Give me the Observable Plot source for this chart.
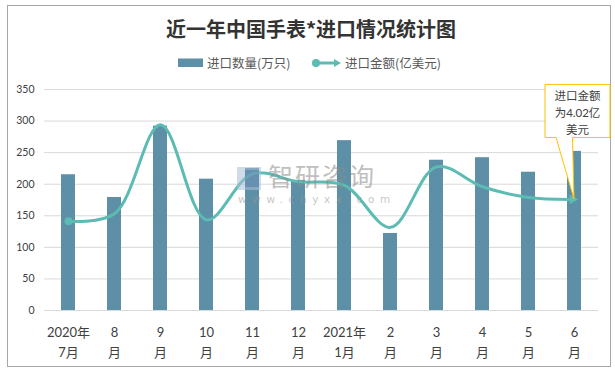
<!DOCTYPE html>
<html><head><meta charset="utf-8">
<script src="https://cdn.jsdelivr.net/npm/d3@7"></script>
<script src="https://cdn.jsdelivr.net/npm/@observablehq/plot@0.6"></script>
<style>
body{margin:0;background:#fff;}
#wrap{position:relative;width:615px;height:371px;overflow:hidden;font-family:Lato,"Noto Sans CJK SC",sans-serif;color:#404040;}
#frame{position:absolute;left:7px;top:5px;width:604px;height:362px;border:1px solid #a6a6a6;box-sizing:border-box;}
#title{position:absolute;left:0;top:16px;width:622px;text-align:center;font-family:"Noto Sans CJK SC",sans-serif;font-weight:700;font-size:20px;line-height:25px;color:#333;}
.leg{position:absolute;font-size:12.5px;line-height:16px;top:55px;color:#595959;font-family:"Noto Sans CJK SC",sans-serif;}
#chart{position:absolute;left:0;top:0;}
#wm{position:absolute;left:0;top:0;width:615px;height:371px;pointer-events:none;opacity:0.55;}
</style>
</head><body>
<div id="wrap">
  <div id="frame"></div>
  <div id="chart"></div>
  <div id="title"></div>
  <svg class="leg" style="left:178px;top:58px" width="26" height="10"><rect x="0" y="0.5" width="25" height="8.5" fill="#5d8fa7"/></svg>
  <div class="leg" id="leg1" style="left:207px"></div>
  <svg class="leg" style="left:310px;top:57px" width="34" height="12"><line x1="6" y1="6" x2="26" y2="6" stroke="#5cbcb4" stroke-width="3"/><circle cx="6" cy="6" r="4" fill="#5cbcb4"/><path d="M24,2L31,6L24,10Z" fill="#5cbcb4"/></svg>
  <div class="leg" id="leg2" style="left:345px"></div>
  <div id="wm">
    <svg style="position:absolute;left:237px;top:167px" width="24" height="24"><rect x="0" y="0" width="24" height="23" fill="#a9bfd8"/><rect x="8" y="3" width="14" height="17" fill="#6f8fb8"/></svg>
    <div style="position:absolute;left:268px;top:163px;font-size:25px;line-height:25px;color:#8c8c8c;font-family:'Noto Sans CJK SC',sans-serif;letter-spacing:2px;">智研咨询</div>
    <div style="position:absolute;left:238px;top:194px;font-size:10.5px;line-height:11px;color:#9a9a9a;letter-spacing:5.6px;font-family:'DejaVu Sans',sans-serif;">www.chyxx.com</div>
  </div>
</div>
<script>
// ---- data ----
const titleText = "近一年中国手表*进口情况统计图";
const seriesNames = ["进口数量(万只)", "进口金额(亿美元)"];
const months = ["2020-07","2020-08","2020-09","2020-10","2020-11","2020-12","2021-01","2021-02","2021-03","2021-04","2021-05","2021-06"];
const labelTop = ["2020年","8","9","10","11","12","2021年","2","3","4","5","6"];
const labelBottom = ["7月","月","月","月","月","月","1月","月","月","月","月","月"];
const quantity = [215, 179, 292, 208, 225, 206, 269, 122, 238, 242, 219, 252];   // 万只
const amount = [3.23, 3.50, 6.72, 3.28, 4.95, 4.66, 4.53, 3.01, 5.20, 4.48, 4.09, 4.02]; // 亿美元
const yTicks = [0, 50, 100, 150, 200, 250, 300, 350];
const secondaryMax = 8;   // hidden right axis 0–8 亿美元
const calloutLines = ["进口金额", "为4.02亿", "美元"];

document.getElementById("title").textContent = titleText;
document.getElementById("leg1").textContent = seriesNames[0];
document.getElementById("leg2").textContent = seriesNames[1];

const RATIO = 350 / secondaryMax;
const data = months.map((m, i) => ({month: m, qty: quantity[i], amt: amount[i], amtY: amount[i] * RATIO}));

const BAR = "#5d8fa7", LINE = "#5cbcb4";

const callout = (index, scales) => {
  const bw = scales.x.bandwidth ? scales.x.bandwidth() / 2 : 0;
  const last = data[data.length - 1];
  const px = scales.x(last.month) + bw;
  const py = scales.y(last.amtY);
  const g = d3.create("svg:g").attr("transform", `translate(${px},${py})`);
  g.append("path")
    .attr("d", "M-29,-114.5H36V-61.5H-1.5L0,0L-18,-61.5H-29Z")
    .attr("fill", "#fff").attr("stroke", "#ffc000").attr("stroke-width", 1);
  calloutLines.forEach((t, i) => {
    g.append("text").attr("x", 3.5).attr("y", -103 + i * 16.8).attr("dy", "0.35em")
      .attr("text-anchor", "middle").attr("fill", "#404040")
      .attr("font-size", 11.5).attr("font-family", "Lato, 'Noto Sans CJK SC', sans-serif")
      .text(t);
  });
  return g.node();
};

const chart = Plot.plot({
  width: 615,
  height: 371,
  marginTop: 89,
  marginBottom: 61,
  marginLeft: 44,
  marginRight: 17,
  style: {background: "transparent", fontFamily: "Lato, 'Noto Sans CJK SC', sans-serif", color: "#404040"},
  x: {type: "band", domain: months, paddingInner: 0.7, paddingOuter: 0.35, align: 0.5},
  y: {domain: [0, 350]},
  marks: [
    Plot.gridY(yTicks, {stroke: "#d9d9d9", strokeOpacity: 1, strokeWidth: 1}),
    Plot.axisY(yTicks, {tickSize: 0, tickPadding: 10, fontSize: 10.5, fill: "#404040", label: null}),
    Plot.axisX({tickSize: 0, tickPadding: 13, fontSize: 13, lineHeight: 1.5, fill: "#404040", label: null,
      tickFormat: (d) => { const i = months.indexOf(d); return labelTop[i] + "\n" + labelBottom[i]; }}),
    Plot.barY(data, {x: "month", y: "qty", fill: BAR}),
    Plot.line(data, {x: "month", y: "amtY", stroke: LINE, strokeWidth: 3, curve: "catmull-rom"}),
    Plot.dot(data.slice(0, 1), {x: "month", y: "amtY", r: 4, fill: LINE}),
    Plot.dot(data.slice(-1), {x: "month", y: "amtY", r: 3.6, fill: LINE, symbol: "triangle", rotate: 90, dx: -2}),
    callout
  ]
});
document.getElementById("chart").appendChild(chart);
</script>
</body></html>
